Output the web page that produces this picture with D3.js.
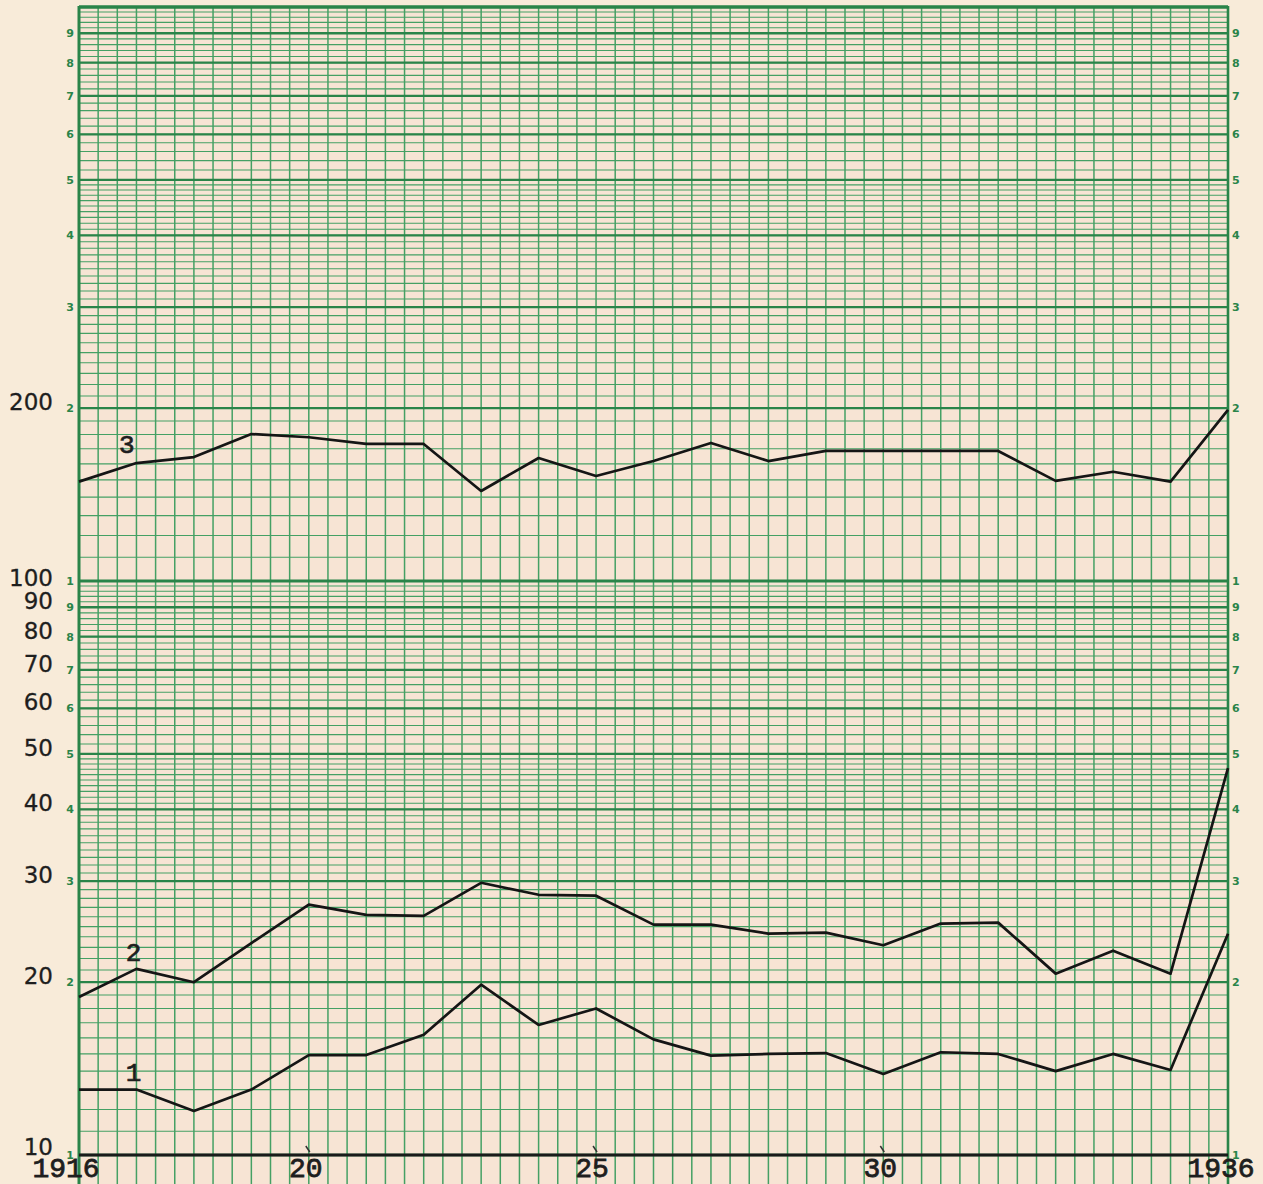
<!DOCTYPE html>
<html>
<head>
<meta charset="utf-8">
<script src="https://cdn.jsdelivr.net/npm/d3@7"></script>
<style>
  html, body { margin: 0; padding: 0; background: #f8ebd9; }
  svg { display: block; }
</style>
</head>
<body>
<svg id="chart" width="1263" height="1184"></svg>
<script>
// ---------- data ----------
const years = [1916,1917,1918,1919,1920,1921,1922,1923,1924,1925,1926,1927,1928,1929,1930,1931,1932,1933,1934,1935,1936];
const series3 = [149,160.5,164.4,180.3,178,173.3,173.3,143.5,163.8,152.4,161.8,174,161.8,168.5,168.5,168.5,168.5,149.4,155,149,198.6];
const series2 = [18.85,21.1,20,23.4,27.3,26.2,26.1,29.8,28.4,28.3,25.2,25.2,24.3,24.4,23.2,25.3,25.4,20.7,22.7,20.7,47.2];
const series1 = [13.0,13.0,11.93,13.0,14.93,14.93,16.2,19.8,16.85,18.0,15.9,14.9,15.0,15.05,13.84,15.1,15.0,14.0,15.0,14.06,24.3];
const seriesNames = ["1","2","3"];
const seriesLabelYear = [1916.95, 1916.95, 1916.83];
const seriesLabelValue = [13.45, 21.8, 167];

const leftLabelValues = [200,100,90,80,70,60,50,40,30,20,10];
const leftLabelText   = ["200","100","90","80","70","60","50","40","30","20","10"];
const yearTickValues = [1916,1920,1925,1930,1936];
const yearTickText   = ["1916","20","25","30","1936"];
const cycleBases = [1, 10, 100];   // paper cycles (1 = partial cycle below 10)
const sideDigits = [1,2,3,4,5,6,7,8,9];

// ---------- layout ----------
const svg = d3.select("#chart");
const x = d3.scaleLinear().domain([1916,1936]).range([79,1228]);
const y = d3.scaleLog().domain([10,1000]).range([1155,7]);
const gridTop = 7, gridBottom = 1190;

const green = "#2a8449", greenMinor = "#45a064";

// plot paper background
svg.append("rect").attr("x", x(1916)).attr("y", gridTop).attr("width", x(1936)-x(1916)).attr("height", gridBottom-gridTop).attr("fill", "#f7e4d4");

// minor horizontal lines
const minorVals = [];
cycleBases.forEach(b => {
  for (let v = 1; v < 5 - 1e-9; v += 0.1) minorVals.push(+(v*b*10).toFixed(4));
  for (let v = 5; v < 10 - 1e-9; v += 0.2) minorVals.push(+(v*b*10).toFixed(4));
});
const majorVals = [];
cycleBases.forEach(b => sideDigits.forEach(d => majorVals.push(d*b*10)));
majorVals.push(1000);

const inView = v => y(v) >= gridTop - 0.5 && y(v) <= 1184;

svg.append("g").selectAll("line").data(minorVals.filter(inView)).join("line")
  .attr("x1", x(1916)).attr("x2", x(1936))
  .attr("y1", d => y(d)).attr("y2", d => y(d))
  .attr("stroke", greenMinor).attr("stroke-width", 1.1);

// vertical lines every 1/3 year
const vTicks = d3.range(0, 61).map(i => 1916 + i/3);
svg.append("g").selectAll("line").data(vTicks).join("line")
  .attr("x1", d => x(d)).attr("x2", d => x(d))
  .attr("y1", gridTop).attr("y2", gridBottom)
  .attr("stroke", greenMinor).attr("stroke-width", 1.5);

// major horizontal lines
svg.append("g").selectAll("line").data(majorVals.filter(inView)).join("line")
  .attr("x1", x(1916)).attr("x2", x(1936))
  .attr("y1", d => y(d)).attr("y2", d => y(d))
  .attr("stroke", green).attr("stroke-width", d => (d===100||d===1000) ? 2.8 : 2.3);

// borders
svg.append("line").attr("x1", x(1916)).attr("x2", x(1916)).attr("y1", gridTop-1).attr("y2", gridBottom).attr("stroke", green).attr("stroke-width", 3);
svg.append("line").attr("x1", x(1936)).attr("x2", x(1936)).attr("y1", gridTop-1).attr("y2", gridBottom).attr("stroke", green).attr("stroke-width", 2.6);

// small green side digits
const sideVals = [];
cycleBases.forEach(b => sideDigits.forEach(d => sideVals.push({v: d*b*10, d})));
const sv = sideVals.filter(o => y(o.v) >= 20 && y(o.v) <= 1190);
["left","right"].forEach(side => {
  svg.append("g").selectAll("text").data(sv).join("text")
    .attr("x", side === "left" ? x(1916) - 5 : x(1936) + 4)
    .attr("y", o => y(o.v) + 4)
    .attr("text-anchor", side === "left" ? "end" : "start")
    .attr("font-family", "DejaVu Sans, sans-serif").attr("font-weight", "bold")
    .attr("font-size", 11).attr("fill", green)
    .text(o => o.d);
});

// baseline at 10
svg.append("line").attr("x1", x(1916)).attr("x2", x(1936)).attr("y1", y(10)).attr("y2", y(10))
  .attr("stroke", "#1a1a1a").attr("stroke-width", 3.2);

// small tick marks at labelled years
svg.append("g").selectAll("line").data(yearTickValues.slice(1,4)).join("line")
  .attr("x1", d => x(d) - 3).attr("x2", d => x(d) + 1)
  .attr("y1", y(10) - 9).attr("y2", y(10) - 3)
  .attr("stroke", "#333").attr("stroke-width", 1.5);

// left value labels
svg.append("g").selectAll("text").data(leftLabelValues).join("text")
  .attr("x", 53)
  .attr("y", (d,i) => y(d) + (d===100 ? 5 : (d===10 ? 0 : 2)))
  .attr("text-anchor", "end")
  .attr("font-family", "DejaVu Sans, sans-serif").attr("font-size", 23)
  .attr("fill", "#1e1e1e").attr("stroke", "#1e1e1e").attr("stroke-width", 0.3)
  .text((d,i) => leftLabelText[i]);

// year labels
const yearDx = [-13, -3, -4, -3, -7];
svg.append("g").selectAll("text").data(yearTickValues).join("text")
  .attr("x", (d,i) => x(d) + yearDx[i])
  .attr("y", 1177)
  .attr("text-anchor", "middle")
  .attr("font-family", "Liberation Mono, Courier New, monospace").attr("font-size", 28)
  .attr("fill", "#1e1e1e").attr("stroke", "#1e1e1e").attr("stroke-width", 0.8)
  .text((d,i) => yearTickText[i]);

// series lines
const line = d3.line().x((d,i) => x(years[i])).y(d => y(d));
[series1, series2, series3].forEach(s => {
  svg.append("path").datum(s).attr("d", line)
    .attr("fill", "none").attr("stroke", "#151515").attr("stroke-width", 2.7)
    .attr("stroke-linejoin", "round");
});

// series labels
svg.append("g").selectAll("text").data(seriesNames).join("text")
  .attr("x", (d,i) => x(seriesLabelYear[i]))
  .attr("y", (d,i) => y(seriesLabelValue[i]))
  .attr("text-anchor", "middle")
  .attr("font-family", "Liberation Mono, Courier New, monospace").attr("font-size", 26)
  .attr("fill", "#1e1e1e").attr("stroke", "#1e1e1e").attr("stroke-width", 0.7)
  .text(d => d);
</script>
</body>
</html>
